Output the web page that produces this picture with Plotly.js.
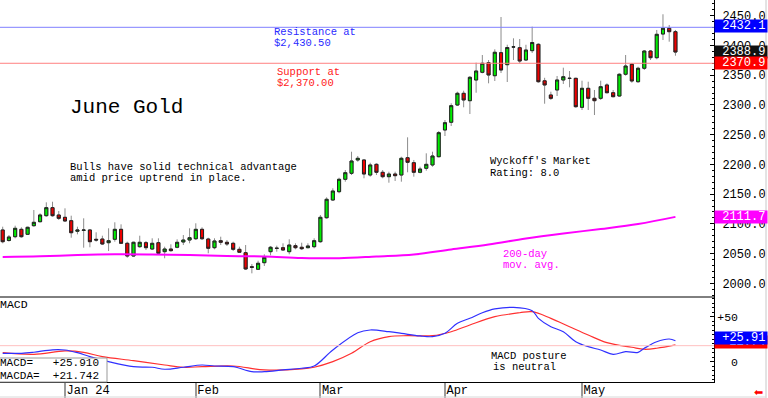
<!DOCTYPE html>
<html><head><meta charset="utf-8">
<script src="https://cdn.plot.ly/plotly-3.0.1.min.js"></script>
<style>html,body{margin:0;padding:0;background:#fff;overflow:hidden}#chart{width:768px;height:398px}</style>
</head><body><div id="chart"></div>
<script>
// trading-day index 0 = Dec 15 2023 ... 108 = May 22 2024
const open = [2089.7,2072.0,2078.4,2090.8,2082.4,2096.9,2103.6,2113.7,2127.2,2114.9,
2111.0,2105.3,2087.5,2089.0,2089.7,2074.0,2074.5,2068.3,2074.0,2090.8,
2067.3,2045.9,2061.6,2068.3,2057.7,2068.3,2053.2,2057.7,2060.6,2069.5,
2072.8,2075.0,2090.8,2074.5,2059.9,2071.7,2069.0,2067.3,2057.2,2051.5,
2027.9,2023.6,2034.7,2053.2,2058.7,2059.9,2053.2,2063.3,2060.6,2059.9,
2061.6,2070.0,2110.3,2140.1,2154.1,2174.9,2185.0,2207.4,2207.4,2182.1,
2200.1,2186.7,2179.3,2183.8,2182.1,2211.2,2202.8,2186.7,2193.4,2199.0,
2212.9,2257.8,2270.8,2299.8,2319.5,2307.1,2341.9,2354.8,2371.0,2349.1,
2387.8,2367.6,2397.2,2396.2,2375.5,2391.2,2401.9,2340.5,2316.7,2325.1,
2341.9,2344.9,2344.7,2296.0,2327.9,2311.1,2311.1,2333.5,2320.5,2315.0,
2351.5,2368.3,2339.0,2361.6,2390.6,2379.4,2419.2,2428.8,2423.1];
const high = [2095.2,2081.2,2096.9,2094.2,2095.2,2123.3,2117.7,2136.2,2137.2,2121.6,
2126.1,2113.7,2095.2,2109.3,2091.3,2085.8,2080.1,2092.5,2102.6,2099.2,
2070.0,2070.0,2080.1,2071.2,2075.7,2075.7,2061.6,2065.6,2074.0,2081.2,
2092.5,2100.9,2094.2,2076.7,2075.7,2078.4,2072.8,2070.0,2061.6,2064.4,
2032.5,2038.0,2048.8,2062.8,2063.3,2067.3,2074.0,2067.3,2068.3,2067.3,
2075.7,2114.9,2144.6,2159.8,2177.6,2190.5,2221.3,2214.1,2208.5,2202.8,
2201.8,2190.5,2187.7,2187.7,2212.9,2245.5,2207.4,2196.1,2218.6,2221.3,
2256.1,2274.6,2302.7,2322.2,2323.9,2348.6,2371.0,2383.9,2375.5,2393.5,
2447.8,2401.2,2412.0,2410.8,2401.1,2431.5,2403.6,2345.6,2322.2,2348.6,
2362.6,2357.0,2345.7,2340.7,2339.0,2325.1,2340.7,2336.3,2325.1,2353.1,
2383.9,2370.0,2364.2,2392.3,2392.3,2426.0,2452.4,2434.4,2426.0];
const low = [2067.3,2070.0,2075.7,2076.7,2081.2,2095.2,2102.6,2112.0,2112.0,2106.5,
2103.6,2076.7,2082.4,2059.9,2060.6,2070.0,2064.4,2054.3,2070.0,2066.1,
2043.1,2044.8,2059.9,2056.0,2056.0,2049.3,2042.1,2053.2,2058.9,2064.4,
2067.3,2072.8,2072.8,2050.5,2057.2,2064.4,2062.8,2054.3,2051.5,2022.4,
2016.8,2022.4,2029.1,2047.1,2053.2,2054.9,2048.8,2057.2,2056.0,2058.9,
2058.9,2068.3,2108.7,2138.4,2151.4,2170.9,2182.1,2204.5,2176.6,2179.3,
2182.1,2176.6,2169.2,2172.1,2170.9,2186.7,2179.3,2185.0,2189.4,2196.1,
2211.9,2247.7,2264.5,2298.2,2296.0,2284.7,2320.5,2353.1,2336.3,2340.2,
2353.6,2338.5,2375.5,2370.0,2373.8,2387.3,2337.3,2302.0,2308.3,2315.0,
2335.2,2329.6,2295.3,2291.4,2291.4,2283.0,2308.3,2319.5,2312.8,2313.8,
2349.1,2337.3,2337.3,2358.7,2375.5,2376.7,2409.1,2406.3,2382.7];
const close = [2070.0,2077.9,2092.5,2078.4,2094.2,2102.6,2114.9,2127.2,2113.7,2109.3,
2104.8,2085.1,2089.7,2089.6,2070.0,2072.8,2066.1,2071.7,2090.8,2067.3,
2045.9,2069.0,2069.0,2059.9,2067.3,2050.5,2057.7,2054.9,2069.0,2072.8,
2076.7,2090.8,2075.0,2058.9,2071.2,2069.0,2066.1,2057.2,2052.2,2024.1,
2026.9,2033.7,2043.7,2060.6,2059.0,2056.0,2064.4,2059.9,2058.2,2062.8,
2071.7,2111.0,2141.3,2155.2,2174.9,2186.0,2205.7,2210.2,2183.8,2199.0,
2186.7,2179.3,2183.8,2181.0,2210.2,2203.5,2186.7,2192.2,2200.1,2214.1,
2253.3,2270.1,2298.7,2319.5,2308.3,2346.4,2357.0,2370.0,2350.3,2388.5,
2358.7,2396.5,2397.6,2373.8,2392.3,2404.9,2339.0,2333.5,2311.1,2341.9,
2347.4,2344.5,2297.0,2327.9,2311.1,2307.1,2330.6,2320.5,2313.8,2351.5,
2365.4,2340.2,2361.6,2390.6,2379.4,2418.7,2428.8,2423.1,2388.9];
const dayIdx = open.map((v,k)=>k);

const tickIdx = [10,31,51,71,93];
const tickText = ['Jan 24','Feb','Mar','Apr','May'];

const maIdx  = [0,6,12,18,24,30,36,42,48,54,60,66,72,78,84,90,96,102,108];
const maVals = [2044.3,2045.4,2047.6,2048.8,2048.5,2047.6,2045.9,2045.1,2042.6,2042.1,
                2045.1,2048.5,2056.9,2065.3,2075.4,2083.8,2091.3,2099.7,2111.7];

const macdIdx  = [0,3,5,8,10,12,14,17,21,24,26,29,32,34,37,40,42,45,48,50,53,57,59,62,64,67,69,71,73,75,77,79,82,85,86,88,90,92,94,96,98,100,102,103,105,107,108];
const macdVals = [9.3,9.3,10.5,13.2,13.0,10.0,5.6,0,-5.6,-6.2,-8.4,-6.2,-3.7,-4.8,-5.6,-11.1,-11.1,-9.2,-7.3,-4.8,13.0,32.2,35.2,33.3,31.5,28.6,27.8,31.5,42.7,48.2,54.4,58.6,60.4,56.7,48.2,38.9,33.3,22.2,16.7,13.0,8.2,11.1,10.4,14.9,22.2,25.2,23.3];
const sigIdx  = [0,5,10,13,16,21,26,29,32,37,42,48,50,53,56,59,62,65,69,72,75,79,83,85,88,91,94,97,101,103,105,108];
const sigVals = [10,8.2,11.9,10.4,5.6,1.1,-3.7,-6.2,-5.6,-4.8,-9.2,-8.1,-6.2,0,9.3,22.2,27.8,28.9,28.9,33.3,40.8,50,54.4,55.6,48.2,38.9,29.7,21.1,16,13.8,14.9,18.6];

const resistance = 2430.5, support = 2370.0;
const lastLabels = [
  {v:2432.1, bg:'#0000ff', t:'2432.1', ax:'y'},
  {v:2388.9, bg:'#111111', t:'2388.9', ax:'y'},
  {v:2370.9, bg:'#ff0000', t:'2370.9', ax:'y'},
  {v:2111.7, bg:'#ff00ff', t:'2111.7', ax:'y'},
  {v:21.742, bg:'#ff0000', t:'+21.74', ax:'y2'},
  {v:25.91,  bg:'#0000ff', t:'+25.91', ax:'y2'}
];

const W = 714, H = 382;
const MONO = 'Liberation Mono, DejaVu Sans Mono, monospace';
function txt(px, py, s, color, size){
  return {xref:'paper', yref:'paper', x:px/W, y:1-py/H, xanchor:'left', yanchor:'middle',
          text:s, showarrow:false, font:{family:MONO, size:size||10.5, color:color||'#000'}, borderpad:0};
}
const blue='#2a2aff', red='#ff2020', mag='#ff00ff';
const annotations = [
  txt(273,32,'Resistance at',blue), txt(273,43,'$2,430.50',blue),
  txt(276,72,'Support at',red), txt(276,83,'$2,370.00',red),
  txt(69,108,'June Gold','#000',21),
  txt(69,167,'Bulls have solid technical advantage'), txt(69,178,'amid price uptrend in place.'),
  txt(489,161,"Wyckoff's Market"), txt(489,173,'Rating: 8.0'),
  txt(502,254,'200-day',mag), txt(502,265,'mov. avg.',mag),
  txt(-1,304,'MACD','#000',11.5),
  txt(490,356,'MACD posture'), txt(492,367,'is neutral'),
  txt(-1,363,'MACD=\u00a0\u00a0\u00a0+25.910','#000',11), txt(-1,376,'MACDA=\u00a0\u00a0+21.742','#000',11),
  {xref:'paper', yref:'paper', x:758/W, y:1-391/H, xanchor:'center', yanchor:'middle', text:'\u2B05', showarrow:false, font:{size:11,color:'#ff0000'}}
];
lastLabels.forEach(L=>annotations.push({xref:'paper', yref:L.ax, x:1, y:L.v, xanchor:'left', yanchor:'middle',
  text:'\u00a0'+L.t, showarrow:false, bgcolor:L.bg, width:52, height:12, align:'left', borderpad:0,
  font:{family:MONO, size:12, color:'#fff'}}));

const splitY = 1 - 297/H;
const shapes = [
  {type:'line', xref:'paper', yref:'y', x0:0, x1:1, y0:resistance, y1:resistance, line:{color:'#8080ff', width:1}},
  {type:'line', xref:'paper', yref:'y', x0:0, x1:1, y0:support, y1:support, line:{color:'#ff8080', width:1}},
  {type:'line', xref:'paper', yref:'y2', x0:0, x1:1, y0:17.8, y1:17.8, line:{color:'#ffc0c0', width:1}},
  {type:'line', xref:'paper', yref:'paper', x0:0, x1:1, y0:splitY, y1:splitY, line:{color:'#000', width:1}},
  {type:'rect', xref:'paper', yref:'paper', x0:-0.01, x1:107/W, y0:0, y1:1-358/H, fillcolor:'#fff', line:{color:'#999', width:1}, layer:'above'},
  {type:'line', xref:'paper', yref:'paper', x0:766/W, x1:766/W, y0:1-398/H, y1:1, line:{color:'#c8c8c8', width:1}},
  {type:'line', xref:'paper', yref:'paper', x0:0, x1:766/W, y0:1-397/H, y1:1-397/H, line:{color:'#d8d8d8', width:1}}
];

const traces = [
  {type:'candlestick', x:dayIdx, open:open, high:high, low:low, close:close, xaxis:'x', yaxis:'y',
   whiskerwidth:0, hoverinfo:'skip',
   increasing:{line:{color:'#8c8c8c', width:1}, fillcolor:'#00ee00'},
   decreasing:{line:{color:'#8c8c8c', width:1}, fillcolor:'#ee0000'}},
  {type:'candlestick', x:dayIdx, open:open, close:close,
   high:open.map((o,k)=>Math.max(o,close[k])), low:open.map((o,k)=>Math.min(o,close[k])),
   xaxis:'x', yaxis:'y', whiskerwidth:0, hoverinfo:'skip',
   increasing:{line:{color:'#222', width:1}, fillcolor:'#00ee00'},
   decreasing:{line:{color:'#222', width:1}, fillcolor:'#ee0000'}},
  {type:'scatter', mode:'lines', x:maIdx, y:maVals, xaxis:'x', yaxis:'y', line:{color:'#ff00ff', width:2, shape:'spline'}, hoverinfo:'skip'},
  {type:'scatter', mode:'lines', x:sigIdx, y:sigVals, xaxis:'x', yaxis:'y2', line:{color:'#ff3030', width:1.2, shape:'spline'}, hoverinfo:'skip'},
  {type:'scatter', mode:'lines', x:macdIdx, y:macdVals, xaxis:'x', yaxis:'y2', line:{color:'#3030ff', width:1.2, shape:'spline'}, hoverinfo:'skip'}
];

const layout = {
  width:768, height:398, margin:{l:0, r:54, t:0, b:16},
  paper_bgcolor:'#fff', plot_bgcolor:'#fff', showlegend:false, dragmode:false,
  xaxis:{range:[-0.433,114.19], anchor:'y2', tickmode:'array', tickvals:tickIdx, ticktext:tickText,
         ticks:'outside', ticklen:15, tickwidth:2, tickcolor:'#9a9a9a', ticklabelposition:'outside right',
         ticklabelstandoff:-3, tickfont:{family:MONO, size:12, color:'#000'},
         showline:true, linecolor:'#000', linewidth:1, showgrid:false, zeroline:false,
         rangeslider:{visible:false}, fixedrange:true},
  yaxis:{domain:[splitY,1], range:[1977.0,2476.4], side:'right', anchor:'x', tickmode:'linear', tick0:2000, dtick:50,
         tickformat:'.1f', ticks:'inside', ticklen:4, tickcolor:'#000', showline:true, linecolor:'#000', linewidth:1,
         minor:{ticks:'inside', ticklen:2, dtick:10, tickcolor:'#000', showgrid:false},
         tickfont:{family:MONO, size:12, color:'#000'}, ticklabelstandoff:5,
         showgrid:false, zeroline:false, fixedrange:true},
  yaxis2:{domain:[0,splitY], range:[-22.6,71.9], side:'right', anchor:'x', tickmode:'array', tickvals:[0,50],
         ticktext:['\u00a0\u00a00','+50'], ticks:'inside', ticklen:4, tickcolor:'#000', showline:true, linecolor:'#000', linewidth:1,
         minor:{ticks:'inside', ticklen:2, dtick:5, tickcolor:'#000', showgrid:false},
         tickfont:{family:MONO, size:11.5, color:'#000'}, ticklabelstandoff:0,
         showgrid:false, zeroline:false, fixedrange:true},
  shapes:shapes, annotations:annotations
};
Plotly.newPlot('chart', traces, layout, {displayModeBar:false, staticPlot:true});
</script></body></html>
